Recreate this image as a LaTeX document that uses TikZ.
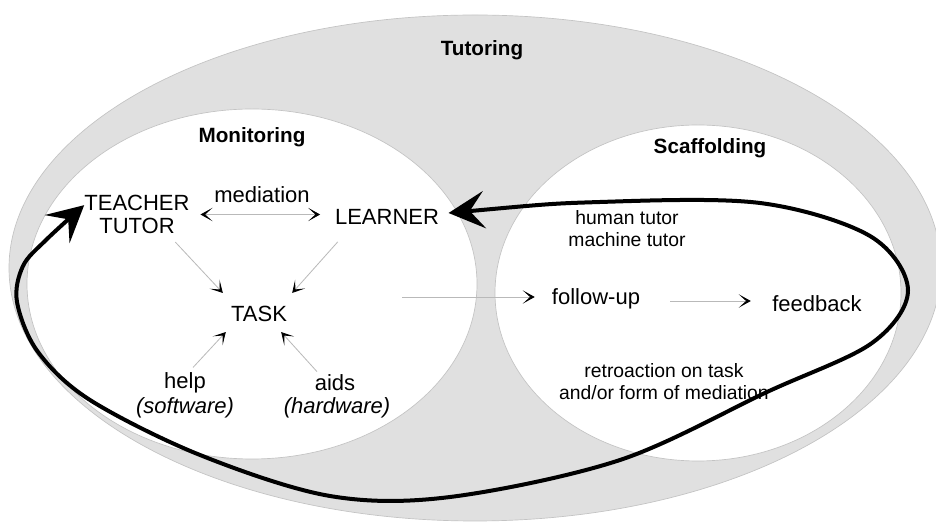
\documentclass[tikz,border=0pt]{standalone}
\usepackage{fontspec}
\setmainfont{Liberation Sans}
\usetikzlibrary{arrows.meta}
\definecolor{tutgray}{RGB}{224,224,224}
\definecolor{edgegray}{RGB}{195,195,195}
\definecolor{linegray}{RGB}{185,185,185}
\begin{document}
\begin{tikzpicture}[x=0.75pt,y=-0.75pt,
  lbl/.style={inner sep=0pt,font=\fontsize{16.5}{17.25}\selectfont,align=center},
  sc/.style={inner sep=0pt,font=\fontsize{14.5}{16.5}\selectfont,align=center},
  ttl/.style={inner sep=0pt,font=\fontsize{15.5}{18}\selectfont\bfseries},
  thinarr/.style={draw=linegray,line width=0.6pt,-{Stealth[color=black,length=9pt,width=10pt,inset=5.5pt]}},
  bigloop/.style={line width=3pt,line cap=round,line join=round,
    {Stealth[length=27pt,width=28pt,inset=11pt]}-{Stealth[length=27pt,width=28pt,inset=11pt]}}
]
\useasboundingbox (0,0) rectangle (936,523);
% ellipses
\path[fill=tutgray,draw=edgegray,line width=0.5pt] (475,268) ellipse [x radius=466,y radius=253];
\path[fill=white,draw=edgegray,line width=0.5pt] (252,284) ellipse [x radius=225,y radius=175];
\path[fill=white,draw=edgegray,line width=0.5pt] (698,293) ellipse [x radius=203,y radius=168];
% titles
\node[ttl] (tutoring) at (482,50) {Tutoring};
\node[ttl] (monitoring) at (252,137) {Monitoring};
\node[ttl] (scaffolding) at (710,148) {Scaffolding};
% monitoring labels
\node[lbl] (teacher) at (137,214.5) {TEACHER\\TUTOR};
\node[lbl] (mediation) at (262,195) {mediation};
\node[lbl] (learner) at (387,217) {LEARNER};
\node[lbl] (task) at (259,314) {TASK};
\node[lbl] (help) at (185,383) {help};
\node[lbl] (software) at (185,408) {\itshape (software)};
\node[lbl] (aids) at (335,383) {aids};
\node[lbl] (hardware) at (337,408) {\itshape (hardware)};
% scaffolding labels
\node[sc] (human) at (627,229) {human tutor\\machine tutor};
\node[lbl] (followup) at (596,299) {follow-up};
\node[lbl] (feedback) at (817,304) {feedback};
\node[sc] (retro) at (664,382) {retroaction on task\\and/or form of mediation};
% thin arrows
\draw[thinarr,{Stealth[color=black,length=9pt,width=10pt,inset=5.5pt]}-{Stealth[color=black,length=9pt,width=10pt,inset=5.5pt]},shorten <=8pt,shorten >=11pt]
  (teacher.east) -- (teacher.east -| learner.west);
\draw[thinarr] ([xshift=-10.9pt,yshift=-6pt]teacher.south east) -- ([xshift=-6pt,yshift=9.75pt]task.north west);
\draw[thinarr] ([xshift=2.25pt,yshift=-12.75pt]learner.south west) -- ([xshift=3.75pt,yshift=9.75pt]task.north east);
\draw[thinarr] ([xshift=6pt,yshift=3.75pt]help.north) -- ([xshift=-3.75pt,yshift=-7.5pt]task.south west);
\draw[thinarr] ([xshift=-13.5pt,yshift=2.25pt]aids.north) -- ([xshift=-4.5pt,yshift=-7.5pt]task.south east);
\coordinate (fs) at (402,297);
\draw[thinarr,shorten >=12.75pt] (fs) -- (fs -| followup.west);
\draw[thinarr,shorten <=22.5pt,shorten >=16pt] ([yshift=-1.5pt]followup.east) -- ([yshift=-1.5pt]followup.east -| feedback.west);
% big loop
\draw[bigloop] plot[smooth,tension=0.55] coordinates {
  ([xshift=7pt,yshift=3pt]learner.east) (600,202) (760,203) (870,236) (908,290) (872,343)
  (767,392) (620,460) (450,497) (330,496) (200,455) (90,400) (38,352) (17,302) (23,266) (46,240)
  ([yshift=7pt]teacher.west)};
\end{tikzpicture}
\end{document}
